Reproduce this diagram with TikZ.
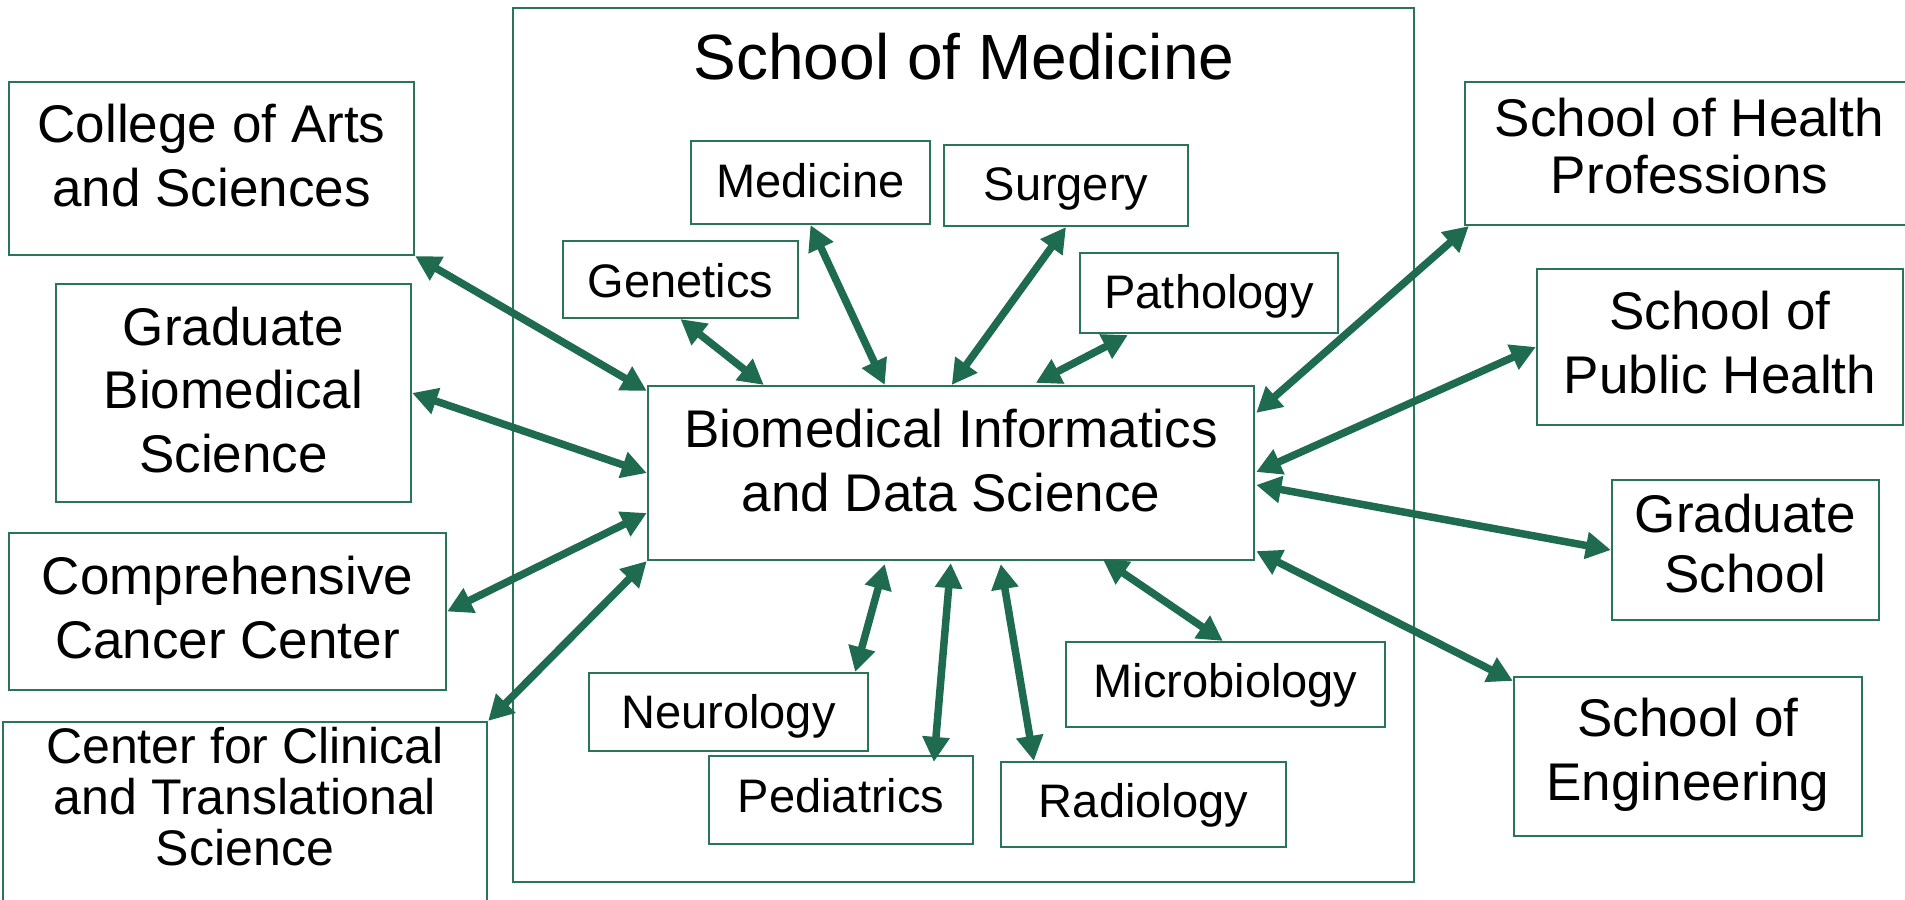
\documentclass[tikz,border=0pt]{standalone}
\usepackage{fontspec}
\setmainfont{Liberation Sans}
\usetikzlibrary{arrows.meta,calc}
\definecolor{agreen}{HTML}{1F6B4F}
\definecolor{bgreen}{HTML}{2A7558}
\newcommand{\mlines}[1]{\setlength{\tabcolsep}{0pt}\begin{tabular}[b]{c}#1\end{tabular}}
\tikzset{
  box/.style={draw=bgreen, line width=0.6pt, inner sep=0pt, text depth=0pt},
  bigtext/.style={font=\fontsize{15.08pt}{17.93pt}\selectfont},
  smalltext/.style={font=\fontsize{13.37pt}{16pt}\selectfont},
  conn/.style={draw=agreen, line width=0.075cm,
    {Triangle[length=0.25cm,width=0.26cm]}-{Triangle[length=0.25cm,width=0.26cm]}},
}
\begin{document}
\begin{tikzpicture}[x=0.01cm,y=-0.01cm]
\useasboundingbox (0,0) rectangle (1905,900);
\fill[white] (0,0) rectangle (1905,900);
\clip (0,0) rectangle (1905,900);

% School of Medicine frame
\node[box, minimum width=9.01cm, minimum height=8.74cm] (som) at (963.5,445) {};
\node[anchor=base, font=\fontsize{18.2pt}{22pt}\selectfont] (title) at (964,80) {School of Medicine};

% left boxes
\node[box, bigtext, minimum width=4.05cm, minimum height=1.73cm, text height=0.75cm] (college) at (211.5,168.5)
  {\mlines{College of Arts\\and Sciences}};
\node[box, bigtext, minimum width=3.55cm, minimum height=2.18cm, text height=1.58cm] (gradbio) at (233.5,393)
  {\mlines{Graduate\\Biomedical\\Science}};
\node[box, bigtext, minimum width=4.37cm, minimum height=1.57cm, text height=0.93cm] (comp) at (227.5,611.5)
  {\mlines{Comprehensive\\Cancer Center}};
\node[box, font=\fontsize{14.23pt}{13.8pt}\selectfont, minimum width=4.84cm, minimum height=2.38cm, text height=0.48cm] (ccts) at (245,841)
  {\mlines{Center for Clinical\\and Translational\\Science}};

% departments
\node[box, smalltext, minimum width=2.39cm, minimum height=0.83cm, text height=0.30cm] (medicine) at (810.5,182.5) {\mlines{Medicine}};
\node[box, smalltext, minimum width=2.44cm, minimum height=0.81cm, text height=0.29cm] (surgery) at (1066,185.5) {\mlines{Surgery}};
\node[box, smalltext, minimum width=2.35cm, minimum height=0.77cm, text height=0.35cm] (genetics) at (680.5,279.5) {\mlines{Genetics}};
\node[box, smalltext, minimum width=2.58cm, minimum height=0.80cm, text height=0.30cm] (pathology) at (1209,293) {\mlines{Pathology}};
\node[box, smalltext, minimum width=2.79cm, minimum height=0.78cm, text height=0.32cm] (neuro) at (728.5,712) {\mlines{Neurology}};
\node[box, smalltext, minimum width=2.64cm, minimum height=0.88cm, text height=0.24cm] (ped) at (841,800) {\mlines{Pediatrics}};
\node[box, smalltext, minimum width=2.85cm, minimum height=0.85cm, text height=0.25cm] (rad) at (1143.5,804.5) {\mlines{Radiology}};
\node[box, smalltext, minimum width=3.19cm, minimum height=0.85cm, text height=0.25cm] (micro) at (1225.5,684.5) {\mlines{Microbiology}};

% central box
\node[box, bigtext, minimum width=6.06cm, minimum height=1.74cm, text height=0.76cm] (bids) at (951,473)
  {\mlines{Biomedical Informatics\\and Data Science}};

% right boxes
\node[box, font=\fontsize{15.08pt}{16.2pt}\selectfont, minimum width=4.49cm, minimum height=1.43cm, text height=0.79cm] (hp) at (1689.5,153.5)
  {\mlines{School of Health\\Professions}};
\node[box, bigtext, minimum width=3.66cm, minimum height=1.56cm, text height=0.92cm] (ph) at (1720,347)
  {\mlines{School of\\Public Health}};
\node[box, font=\fontsize{15.08pt}{16.8pt}\selectfont, minimum width=2.67cm, minimum height=1.40cm, text height=0.84cm] (gs) at (1745.5,550)
  {\mlines{Graduate\\School}};
\node[box, bigtext, minimum width=3.48cm, minimum height=1.59cm, text height=0.87cm] (eng) at (1688,756.5)
  {\mlines{School of\\Engineering}};

% connectors
\draw[conn] (college.south east) -- ($(bids.north west)+(0,6)$);
\draw[conn] (gradbio.east) -- (bids.west);
\draw[conn] (comp.east) -- ($(bids.west)+(0,40)$);
\draw[conn] (ccts.north east) -- (bids.south west);
\draw[conn] (genetics.south) -- ($(bids.north west)+(117,0)$);
\draw[conn] (medicine.south) -- ($(bids.north west)+(238,0)$);
\draw[conn] (surgery.south) -- ($(bids.north west)+(305,0)$);
\draw[conn] ($(pathology.south west)+(49,1)$) -- ($(bids.north west)+(389,-2)$);
\draw[conn] ($(hp.south west)+(5,0)$) -- ($(bids.north east)+(1,28)$);
\draw[conn] (ph.west) -- ($(bids.east)+(1,-1)$);
\draw[conn] (gs.west) -- ($(bids.east)+(1,12)$);
\draw[conn] ($(eng.north west)+(0,5)$) -- ($(bids.south east)+(1,-10)$);
\draw[conn] ($(bids.south west)+(238,3)$) -- ($(neuro.north east)+(-14,0)$);
\draw[conn] ($(bids.south west)+(304,2)$) -- ($(ped.north west)+(226,7)$);
\draw[conn] ($(bids.south west)+(354,3)$) -- ($(rad.north west)+(34,0)$);
\draw[conn] ($(bids.south west)+(456,-2)$) -- ($(micro.north west)+(158,0)$);
\end{tikzpicture}
\end{document}
